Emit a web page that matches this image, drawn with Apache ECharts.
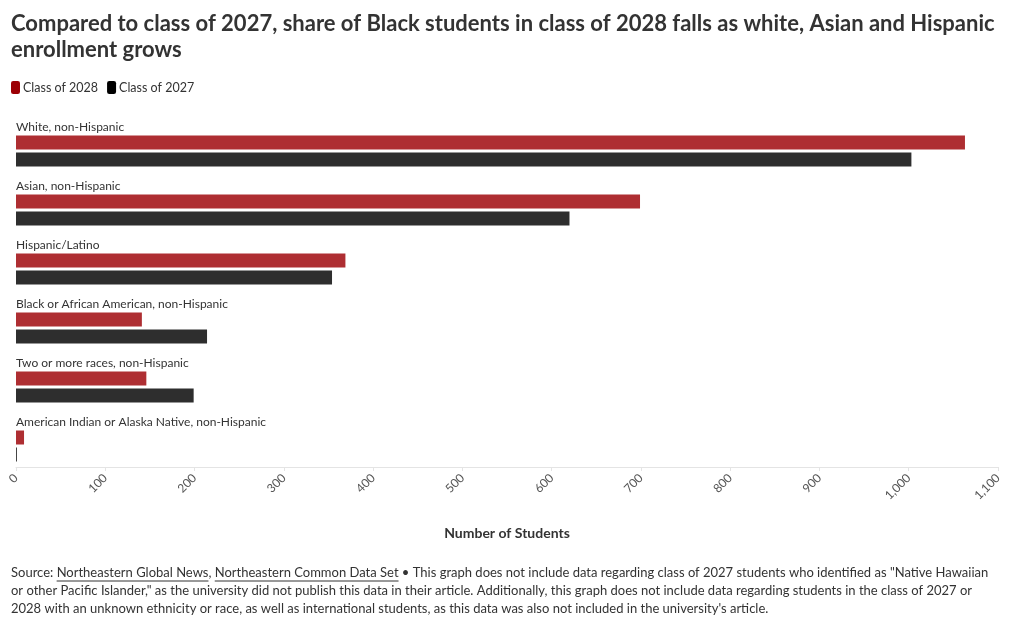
<!DOCTYPE html>
<html>
<head>
<meta charset="utf-8">
<script src="https://cdn.jsdelivr.net/npm/echarts@6/dist/echarts.min.js"></script>
<style>
  html, body { margin: 0; padding: 0; background: #fff; }
  #chart { width: 1020px; height: 628px; }
</style>
</head>
<body>
<div id="chart"></div>
<script>
const titleText = 'Compared to class of 2027, share of Black students in class of 2028 falls as white, Asian and Hispanic\nenrollment grows';
const categories = [
  'White, non-Hispanic',
  'Asian, non-Hispanic',
  'Hispanic/Latino',
  'Black or African American, non-Hispanic',
  'Two or more races, non-Hispanic',
  'American Indian or Alaska Native, non-Hispanic'
];
const seriesNames = ['Class of 2028', 'Class of 2027'];
const class2028 = [1063, 699, 369, 141, 146, 9];
const class2027 = [1003, 620, 354, 214, 199, 1];
const xMin = 0, xMax = 1100, xInterval = 100;
const xAxisTitle = 'Number of Students';
const sourcePrefix = 'Source: ';
const sourceLinks = ['Northeastern Global News', 'Northeastern Common Data Set'];
const noteLine1 = ' \u2022 This graph does not include data regarding class of 2027 students who identified as "Native Hawaiian';
const noteLine2 = 'or other Pacific Islander," as the university did not publish this data in their article. Additionally, this graph does not include data regarding students in the class of 2027 or';
const noteLine3 = '2028 with an unknown ethnicity or race, as well as international students, as this data was also not included in the university\'s article.';

const FONT = 'Lato';
const chart = echarts.init(document.getElementById('chart'), null, { renderer: 'canvas' });

// footer with underlined links
const footFont = '13px ' + FONT;
const mctx = document.createElement('canvas').getContext('2d');
mctx.font = footFont;
const mw = s => mctx.measureText(s).width;
const footColor = '#333333';
const fx = 11, fy = [566, 584, 602];
const graphics = [];
let cx = fx;
const pushText = (t, x, y) => graphics.push({ type: 'text', x: x, y: y, style: { text: t, font: footFont, fill: footColor, verticalAlign: 'top' } });
pushText(sourcePrefix, cx, fy[0]); cx += mw(sourcePrefix);
pushText(sourceLinks[0], cx, fy[0]);
graphics.push({ type: 'line', shape: { x1: cx, y1: fy[0] + 15, x2: cx + mw(sourceLinks[0]), y2: fy[0] + 15 }, style: { stroke: footColor, lineWidth: 1 } });
cx += mw(sourceLinks[0]);
pushText(', ', cx, fy[0]); cx += mw(', ');
pushText(sourceLinks[1], cx, fy[0]);
graphics.push({ type: 'line', shape: { x1: cx, y1: fy[0] + 15, x2: cx + mw(sourceLinks[1]), y2: fy[0] + 15 }, style: { stroke: footColor, lineWidth: 1 } });
cx += mw(sourceLinks[1]);
pushText(noteLine1, cx, fy[0]);
pushText(noteLine2, fx, fy[1]);
pushText(noteLine3, fx, fy[2]);

const option = {
  animation: false,
  backgroundColor: '#ffffff',
  title: {
    text: titleText,
    left: 11,
    top: 11,
    padding: 0,
    textStyle: { fontFamily: FONT, fontSize: 22, fontWeight: 'bold', color: '#333333', lineHeight: 26 }
  },
  legend: {
    data: seriesNames,
    left: 11,
    top: 81,
    padding: 0,
    icon: 'roundRect',
    itemWidth: 9,
    itemHeight: 13,
    itemGap: 9,
    selectedMode: false,
    textStyle: { fontFamily: FONT, fontSize: 12.5, color: '#333333', padding: [0, 0, 0, -2] },
    itemStyle: { opacity: 1 }
  },
  grid: { left: 16, right: 22, top: 113, bottom: 161, containLabel: false },
  xAxis: {
    type: 'value',
    min: xMin,
    max: xMax,
    interval: xInterval,
    name: xAxisTitle,
    nameLocation: 'middle',
    nameGap: 59,
    nameTextStyle: { fontFamily: FONT, fontSize: 14, fontWeight: 'bold', color: '#333333' },
    axisLine: { show: true, lineStyle: { color: '#e4e4e4', width: 1 } },
    axisTick: { show: true, length: 4, lineStyle: { color: '#e4e4e4' } },
    splitLine: { show: false },
    axisLabel: {
      rotate: 45,
      margin: 9,
      fontFamily: FONT,
      fontSize: 12,
      color: '#555555',
      formatter: v => v.toLocaleString('en-US')
    }
  },
  yAxis: {
    type: 'category',
    data: categories,
    inverse: true,
    axisLine: { show: false },
    axisTick: { show: false },
    axisLabel: { show: false },
    splitLine: { show: false }
  },
  series: [
    {
      name: 'category-label',
      type: 'bar',
      data: categories.map(() => 0),
      barWidth: 14,
      barGap: '21.4%',
      silent: true,
      itemStyle: { color: 'rgba(0,0,0,0)' },
      label: {
        show: true,
        position: 'right',
        distance: 0,
        offset: [0, 1.5],
        formatter: p => p.name,
        fontFamily: FONT,
        fontSize: 12,
        color: '#333333'
      }
    },
    {
      name: seriesNames[0],
      type: 'bar',
      data: class2028,
      barWidth: 14,
      barGap: '21.4%',
      itemStyle: { color: '#9c0005', opacity: 0.82 }
    },
    {
      name: seriesNames[1],
      type: 'bar',
      data: class2027,
      barWidth: 14,
      barGap: '21.4%',
      itemStyle: { color: '#000000', opacity: 0.82 }
    }
  ],
  graphic: graphics
};
chart.setOption(option);
</script>
</body>
</html>
